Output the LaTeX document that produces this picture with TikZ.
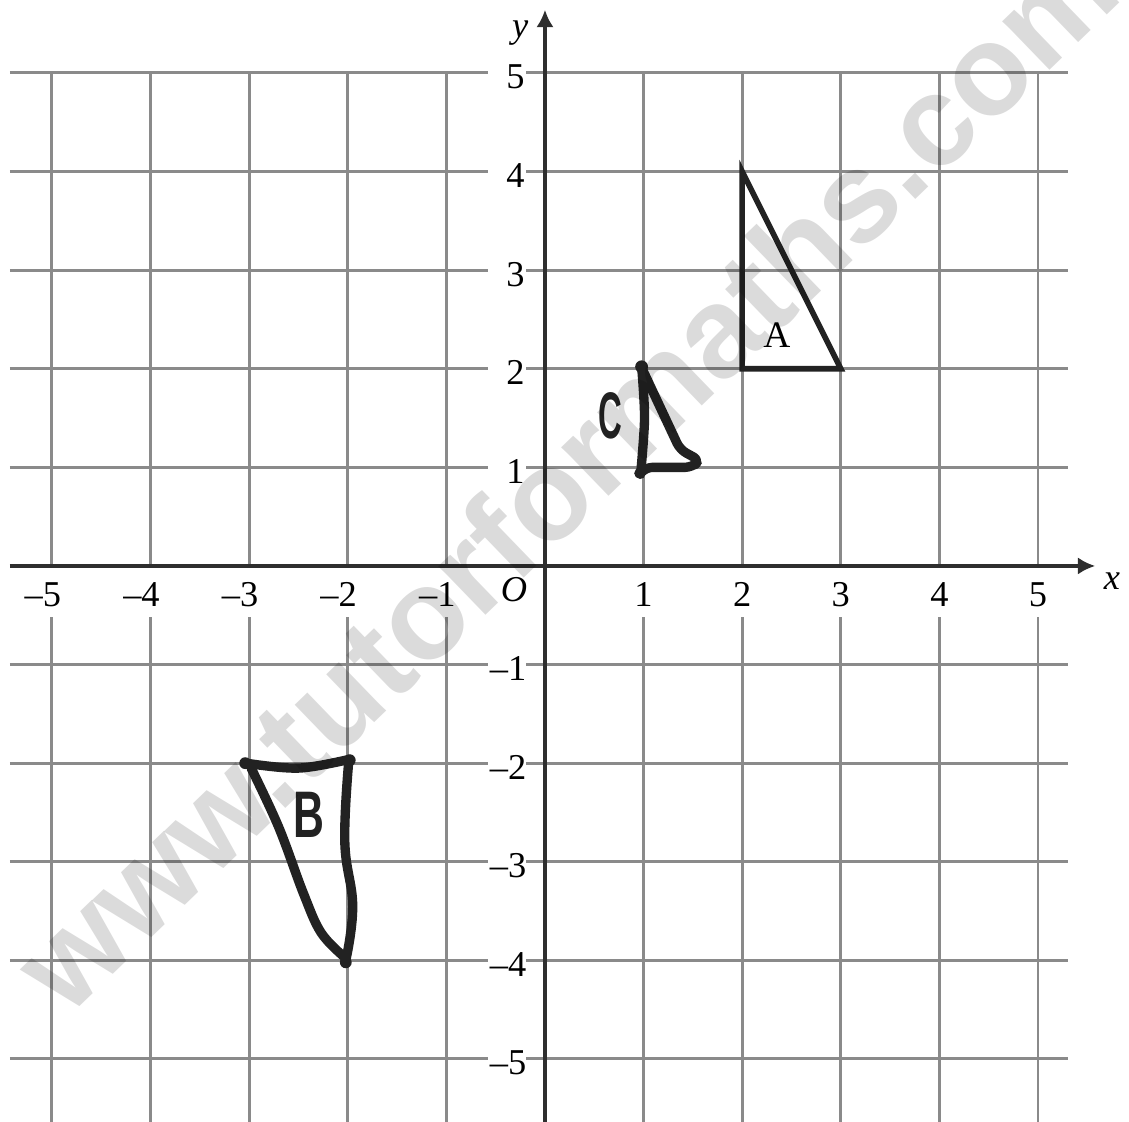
\documentclass[tikz,border=0pt]{standalone}
\usepackage{fontspec}
\setmainfont{Liberation Serif}
\newfontfamily\handfont{Liberation Sans}
\usetikzlibrary{arrows.meta}
\definecolor{gridgray}{HTML}{8A8A8A}
\definecolor{axisblack}{HTML}{2E2E2E}
\definecolor{inkblack}{HTML}{222222}

\begin{document}
\begin{tikzpicture}[
  gridline/.style={gridgray, line width=0.85pt},
  axisline/.style={axisblack, line width=0.9pt, -{Latex[length=5pt,width=5pt]}},
  numfont/.style={font=\fontsize{10.5}{12}\selectfont},
  xlabel/.style={numfont, fill=white, anchor=base, text height=8.3pt, text depth=0pt, inner xsep=1pt, inner ysep=3pt},
  ylabel/.style={numfont, fill=white, anchor=base east, inner xsep=0.5pt, inner ysep=1.5pt},
  shapeline/.style={inkblack, line width=1.6pt},
  handline/.style={inkblack, line width=2.7pt, line cap=round, line join=round},
  handdot/.style={inkblack, fill=inkblack},
  handlabel/.style={inkblack, font=\handfont\bfseries\fontsize{19}{19}\selectfont}]
  \useasboundingbox (-5.527,-5.639) rectangle (5.923,5.740);
  \foreach \i in {-5,...,5} {
    \draw[gridline] (-5.427,\i) -- (5.30,\i);
    \draw[gridline] (\i,5) -- (\i,-5.7);
  }
  \foreach \i in {1,...,5} {
    \node[xlabel] (xp\i) at (\i,-0.416) {\i};
    \node[xlabel] (xm\i) at (-\i,-0.416) {\llap{–}\i};
    \node[ylabel] (yp\i) at (-0.183,\i-0.162) {\hbox to 10pt{\hfill\i}};
    \node[ylabel] (ym\i) at (-0.183,-\i-0.162) {\hbox to 10pt{\hfill–\i}};
  }
  \node[font={\fontsize{10.5}{12}\selectfont\itshape}] (origin) at (-0.314,-0.243) {O};
  \draw[axisline] (-5.427,0) -- (5.58,0);
  \draw[axisline] (0,-5.7) -- (0,5.64);
  \node[font={\fontsize{10.5}{12}\selectfont\itshape}] (xname) at (5.75,-0.15) {x};
  \node[font={\fontsize{10.5}{12}\selectfont\itshape}] (yname) at (-0.25,5.40) {y};

  \coordinate (A1) at (2,4);
  \coordinate (A2) at (2,2);
  \coordinate (A3) at (3,2);
  \draw[shapeline] (A1) -- (A2) -- (A3) -- cycle;
  \node[font=\fontsize{10.8}{12}\selectfont] (labA) at (2.353,2.343) {A};

  \draw[handline] plot[smooth, tension=0.6] coordinates {(-3.03,-2.0) (-2.5,-2.05) (-1.98,-1.96)};
  \draw[handline] plot[smooth, tension=0.7] coordinates {(-1.99,-1.98) (-2.03,-2.8) (-1.95,-3.45) (-2.02,-4.0)};
  \draw[handline] plot[smooth, tension=0.6] coordinates {(-2.98,-2.05) (-2.7,-2.65) (-2.45,-3.32) (-2.27,-3.72) (-2.03,-3.97)};
  \fill[handdot] (-3.04,-2.0) circle (0.06);
  \fill[handdot] (-1.98,-1.97) circle (0.06);
  \fill[handdot] (-2.02,-4.02) circle (0.06);
  \node[handlabel] (labB) at (-2.39,-2.52) {\scalebox{0.65}[1]{B}};

  \draw[handline] plot[smooth, tension=0.5] coordinates {(0.98,2.03) (1.01,1.5) (0.97,0.93)};
  \draw[handline, rounded corners=2pt] (0.99,1.99) -- (1.37,1.18) -- (1.57,1.07) -- (1.49,1.0) -- (1.02,1.0) -- (0.97,0.94);
  \fill[handdot] (0.98,2.02) circle (0.065);
  \fill[handdot] (0.96,0.94) circle (0.055);
  \node[handlabel] (labC) at (0.66,1.52) {\scalebox{0.5}[1]{C}};

  \node[rotate=44, text=black, text opacity=0.14, font=\handfont\bfseries\fontsize{37}{37}\selectfont] (watermark) at (0.2,0.92) {www.tutorformaths.com};
\end{tikzpicture}
\end{document}
